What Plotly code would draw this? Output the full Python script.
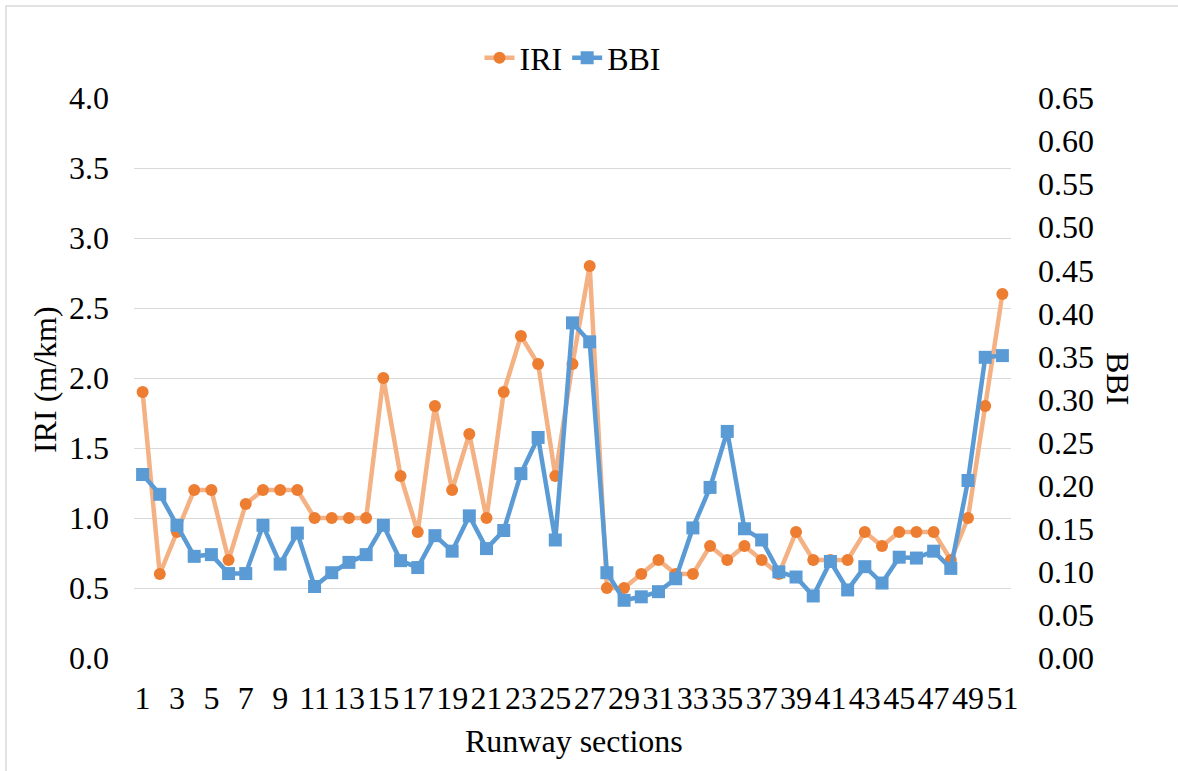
import plotly.graph_objects as go

sections = list(range(1, 52))
iri = [1.9, 0.6, 0.9, 1.2, 1.2, 0.7, 1.1, 1.2, 1.2, 1.2,
       1.0, 1.0, 1.0, 1.0, 2.0, 1.3, 0.9, 1.8, 1.2, 1.6,
       1.0, 1.9, 2.3, 2.1, 1.3, 2.1, 2.8, 0.5, 0.5, 0.6,
       0.7, 0.6, 0.6, 0.8, 0.7, 0.8, 0.7, 0.6, 0.9, 0.7,
       0.7, 0.7, 0.9, 0.8, 0.9, 0.9, 0.9, 0.7, 1.0, 1.8,
       2.6]
bbi = [0.213, 0.190, 0.154, 0.118, 0.120, 0.098, 0.098, 0.154, 0.109, 0.145,
       0.083, 0.099, 0.111, 0.120, 0.154, 0.113, 0.105, 0.142, 0.124, 0.165,
       0.127, 0.148, 0.214, 0.256, 0.137, 0.389, 0.367, 0.099, 0.067, 0.071,
       0.077, 0.092, 0.151, 0.198, 0.263, 0.150, 0.137, 0.100, 0.094, 0.072,
       0.112, 0.079, 0.106, 0.087, 0.117, 0.116, 0.124, 0.104, 0.206, 0.349,
       0.351]
x_ticks = list(range(1, 52, 2))
x_ticklabels = [str(v) for v in x_ticks]
iri_ticks = [0, 0.5, 1.0, 1.5, 2.0, 2.5, 3.0, 3.5, 4.0]
bbi_ticks = [i * 0.05 for i in range(14)]

FONT = "Liberation Serif, Times New Roman, serif"
FS = 32

fig = go.Figure()
fig.add_trace(go.Scatter(
    x=sections, y=iri, name="IRI", mode="lines+markers",
    line=dict(color="#F4B183", width=4.5),
    marker=dict(color="#ED7D31", size=12, symbol="circle"),
    yaxis="y"))
fig.add_trace(go.Scatter(
    x=sections, y=bbi, name="BBI", mode="lines+markers",
    line=dict(color="#5B9BD5", width=4.5),
    marker=dict(color="#5B9BD5", size=13, symbol="square"),
    yaxis="y2"))

L, R, T, B = 134, 1178 - 1011, 98, 771 - 658
W, H = 1178, 771
pw, ph = W - L - R, H - T - B

def px_x(x):
    return (x - L) / pw

def px_y(y):
    return (H - B - y) / ph

fig.update_layout(
    width=W, height=H,
    margin=dict(l=L, r=R, t=T, b=B, pad=0),
    paper_bgcolor="white", plot_bgcolor="white",
    font=dict(family=FONT, size=FS, color="#000000"),
    showlegend=True,
    legend=dict(orientation="h", x=0.5, xanchor="center",
                y=px_y(58), yanchor="middle",
                font=dict(family=FONT, size=FS),
                bgcolor="rgba(0,0,0,0)", itemwidth=30, tracegroupgap=0),
    xaxis=dict(range=[0.5, 51.5], tickmode="array", tickvals=x_ticks,
               ticktext=x_ticklabels, tickangle=0, showgrid=False,
               zeroline=False, showline=False, ticks="",
               ticklabelstandoff=18,
               tickfont=dict(family=FONT, size=FS)),
    yaxis=dict(range=[0, 4], tickmode="array", tickvals=iri_ticks,
               tickformat=".1f", showgrid=True, gridcolor="#D9D9D9",
               gridwidth=1.2, zeroline=False, showline=False, ticks="",
               ticklabelstandoff=24,
               tickfont=dict(family=FONT, size=FS)),
    yaxis2=dict(range=[0, 0.65], tickmode="array", tickvals=bbi_ticks,
                tickformat=".2f", overlaying="y", side="right",
                showgrid=False, zeroline=False, showline=False, ticks="",
                ticklabelstandoff=26,
                tickfont=dict(family=FONT, size=FS)),
    annotations=[
        dict(text="IRI (m/km)", xref="paper", yref="paper",
             x=px_x(45), y=px_y(380), textangle=-90, showarrow=False,
             xanchor="center", yanchor="middle",
             font=dict(family=FONT, size=FS)),
        dict(text="BBI", xref="paper", yref="paper",
             x=px_x(1118), y=px_y(378), textangle=90, showarrow=False,
             xanchor="center", yanchor="middle",
             font=dict(family=FONT, size=FS)),
        dict(text="Runway sections", xref="paper", yref="paper",
             x=px_x(574), y=px_y(741), showarrow=False,
             xanchor="center", yanchor="middle",
             font=dict(family=FONT, size=FS)),
    ],
    shapes=[
        dict(type="rect", xref="paper", yref="paper",
             x0=px_x(6), x1=px_x(1200), y0=px_y(800), y1=px_y(6),
             line=dict(color="#D9D9D9", width=1.5), fillcolor="rgba(0,0,0,0)",
             layer="below"),
    ],
)

fig.write_html("out.html")
